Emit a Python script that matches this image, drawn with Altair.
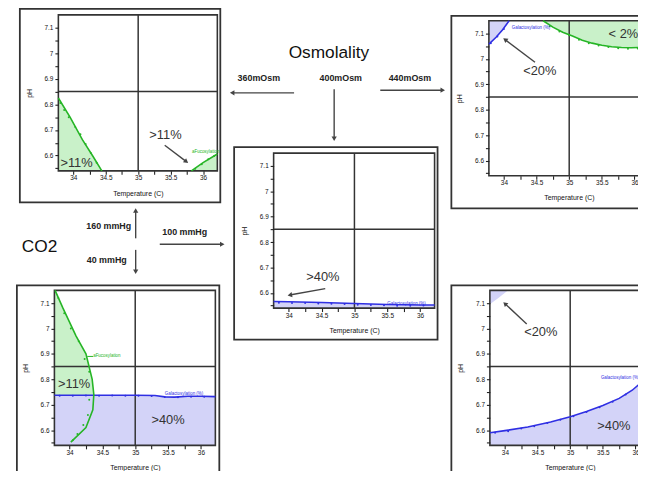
import math
import altair as alt
import pandas as pd

# ---------------- values ----------------
X_DOMAIN = [33.77, 36.22]          # Temperature (C)
Y_DOMAIN = [6.54, 7.15]            # pH
X_TICKS = [34.0, 34.25, 34.5, 34.75, 35.0, 35.25, 35.5, 35.75, 36.0]
Y_TICKS = [6.55, 6.6, 6.65, 6.7, 6.75, 6.8, 6.85, 6.9, 6.95, 7.0, 7.05, 7.1]
T_SET = 35.0
PH_SET = 6.85

# 360 mOsm (top left)
p1_fuc_a_T = [33.77, 33.95, 34.14, 34.30, 34.44]
p1_fuc_a_pH = [6.825, 6.750, 6.662, 6.598, 6.54]
p1_fuc_b_T = [35.82, 36.00, 36.22]
p1_fuc_b_pH = [6.54, 6.572, 6.606]
p1_dot_T = [33.80, 33.86, 33.93, 34.03, 34.11, 34.19, 34.27, 34.36, 35.88, 35.98, 36.08, 36.17]
p1_dot_pH = [6.805, 6.778, 6.750, 6.712, 6.683, 6.645, 6.610, 6.572, 6.548, 6.566, 6.585, 6.598]

# 400 mOsm (centre)
p2_gal_T = [33.77, 34.0, 34.5, 35.0, 35.5, 36.0, 36.22]
p2_gal_pH = [6.566, 6.565, 6.562, 6.558, 6.554, 6.552, 6.552]
p2_dot_T = [33.85, 34.05, 34.25, 34.45, 34.65, 34.85, 35.05, 35.25, 35.45, 35.65, 35.85, 36.05]
p2_dot_pH = [6.561, 6.560, 6.560, 6.558, 6.557, 6.556, 6.553, 6.552, 6.551, 6.549, 6.549, 6.550]

# 440 mOsm (top right)
p3_gal_T = [33.77, 33.88, 33.98, 34.08]
p3_gal_pH = [7.058, 7.085, 7.115, 7.150]
p3_fuc_T = [34.60, 34.75, 34.90, 35.05, 35.20, 35.35, 35.50, 35.65, 35.80, 35.95, 36.10, 36.22]
p3_fuc_pH = [7.150, 7.125, 7.105, 7.090, 7.073, 7.062, 7.054, 7.048, 7.045, 7.044, 7.045, 7.047]
p3_dot_T = [33.80, 33.90, 34.00, 34.70, 34.85, 35.00, 35.15, 35.30, 35.45, 35.60, 35.75, 35.90, 36.05, 36.20]
p3_dot_pH = [7.062, 7.088, 7.118, 7.128, 7.108, 7.093, 7.075, 7.062, 7.053, 7.047, 7.042, 7.040, 7.041, 7.044]

# 40 mmHg CO2 (bottom left)
p4_fuc_pH = [7.15, 7.08, 6.97, 6.90, 6.80, 6.74, 6.68, 6.61, 6.553]
p4_fuc_T = [33.78, 33.90, 34.10, 34.25, 34.345, 34.37, 34.355, 34.25, 34.02]
p4_dot_pH = [7.12, 7.06, 7.00, 6.95, 6.88, 6.83, 6.72, 6.66, 6.62, 6.585, 6.56]
p4_dot_T = [33.83, 33.92, 34.02, 34.14, 34.23, 34.30, 34.30, 34.28, 34.21, 34.12, 34.05]
p4_gal_T = [33.77, 34.0, 34.5, 35.0, 35.3, 35.45, 35.6, 35.8, 36.0, 36.22]
p4_gal_pH = [6.737, 6.737, 6.737, 6.737, 6.736, 6.731, 6.730, 6.733, 6.733, 6.732]
p4_gdot_T = [33.85, 34.05, 34.25, 34.45, 34.65, 34.85, 35.05, 35.25, 35.45, 35.65, 35.85, 36.05]
p4_gdot_pH = [6.735, 6.735, 6.736, 6.735, 6.736, 6.735, 6.735, 6.734, 6.730, 6.729, 6.731, 6.731]

# 160 mmHg CO2 (bottom right)
p5_gal_T = [33.77, 34.0, 34.35, 34.7, 35.0, 35.25, 35.5, 35.75, 35.95, 36.1, 36.22]
p5_gal_pH = [6.590, 6.598, 6.612, 6.632, 6.653, 6.673, 6.697, 6.725, 6.757, 6.790, 6.825]
p5_dot_T = [33.85, 34.05, 34.25, 34.45, 34.65, 34.85, 35.05, 35.25, 35.45, 35.65, 35.85, 36.05]
p5_dot_pH = [6.590, 6.596, 6.606, 6.615, 6.628, 6.641, 6.655, 6.671, 6.690, 6.712, 6.740, 6.776]
p5_gal_b_T = [33.77, 33.90, 34.05]
p5_gal_b_pH = [7.095, 7.120, 7.150]

# percentage call-outs inside the panels
PCT_PANEL = ["p1", "p1", "p2", "p3", "p3", "p4", "p4", "p5", "p5"]
PCT_TEXT = [">11%", ">11%", ">40%", "<20%", "< 2%", ">11%", ">40%", "<20%", ">40%"]
PCT_T = [35.42, 34.05, 34.52, 34.55, 35.83, 34.07, 35.50, 34.55, 35.67]
PCT_PH = [6.680, 6.571, 6.663, 6.953, 7.097, 6.783, 6.638, 6.987, 6.616]

# tiny series tags
TAG_PANEL = ["p1", "p2", "p3", "p4", "p4", "p5"]
TAG_TEXT = ["aFucosylation", "Galactosylation (%)", "Galactosylation (%)",
            "aFucosylation", "Galactosylation (%)", "Galactosylation (%)"]
TAG_SERIES = ["fuc", "gal", "gal", "fuc", "gal", "gal"]
TAG_T = [35.83, 35.50, 34.12, 34.36, 35.45, 35.47]
TAG_PH = [6.612, 6.556, 7.123, 6.890, 6.744, 6.806]

# figure-level labels
HEAD_TEXT = ["Osmolality", "CO2"]
HEAD_X = [333, 40]
HEAD_Y = [51, 247]
SUB_TEXT = ["360mOsm", "400mOsm", "440mOsm", "160 mmHg", "40 mmHg", "100 mmHg"]
SUB_X = [262, 345, 415, 110, 108, 187]
SUB_Y = [76, 76, 76, 226, 260, 232]

# arrows (page pixels): start -> tip
ARROW_X1 = [297.7, 385.0, 338.3, 137.3, 137.3, 161.7, 166.7, 329.3, 541.7, 533.3]
ARROW_Y1 = [91.0, 88.3, 87.3, 238.3, 250.0, 244.3, 144.0, 289.3, 60.0, 325.0]
ARROW_X2 = [233.3, 450.0, 338.3, 137.3, 137.3, 226.7, 190.0, 291.7, 510.0, 510.0]
ARROW_Y2 = [91.0, 88.3, 139.3, 208.3, 274.0, 244.3, 161.7, 296.0, 36.0, 303.3]

# panel frames (page pixels)
FRAME_L = [20, 237, 457, 17, 457]
FRAME_R = [223, 443, 720, 222, 720]
FRAME_T = [6, 146, 13, 286, 286]
FRAME_B = [202, 341, 208, 540, 540]

# ---------------- layout & style ----------------
OX, OY = 8, 8
W, H = 638, 463
BOX = {  # plot areas on the page: left, right, bottom, top
    "p1": (59, 220, 170, 12),
    "p2": (277, 440, 309, 152),
    "p3": (495, 657, 175, 18),
    "p4": (55, 218, 448, 291),
    "p5": (496, 658, 448, 291),
}
GREEN, GREEN_FILL = "#26b526", "#c9f1c9"
BLUE, BLUE_FILL = "#2f2fe3", "#d3d3f8"
INK = "#333333"
COL = {"fuc": GREEN, "gal": BLUE}


def xscale(key):
    l, r, b, t = BOX[key]
    return alt.Scale(domain=X_DOMAIN, range=[l - OX, r - OX], nice=False, zero=False)


def yscale(key):
    l, r, b, t = BOX[key]
    return alt.Scale(domain=Y_DOMAIN, range=[b - OY, t - OY], nice=False, zero=False)


def XF(key, field, axis=None):
    return alt.X(f"{field}:Q", scale=xscale(key), axis=axis)


def YF(key, field, axis=None):
    return alt.Y(f"{field}:Q", scale=yscale(key), axis=axis)


def df(**cols):
    return pd.DataFrame(cols)


def base_layers(key):
    l, r, b, t = BOX[key]
    common = dict(grid=False, domain=False, ticks=True, labels=True, tickSize=3.5, tickWidth=1.1,
                  tickColor="#222", labelFontSize=6.5, labelColor="#111", labelFlush=False,
                  labelOverlap=False, titleFontSize=7, titleFontWeight="normal", titleColor="#111",
                  format="~g", zindex=5)
    xa = alt.Axis(orient="bottom", offset=(b - OY) - H, values=X_TICKS,
                  labelExpr="abs(datum.value*2 - round(datum.value*2)) < 0.01 ? datum.label : ''",
                  title="Temperature (C)", labelPadding=0.5, titlePadding=8, **common)
    ya = alt.Axis(orient="left", offset=-(l - OX), values=Y_TICKS,
                  labelExpr="abs(datum.value*10 - round(datum.value*10)) < 0.01 ? datum.label : ''",
                  title="pH", labelPadding=2, titlePadding=12, **common)
    box = df(x0=[X_DOMAIN[0]], x1=[X_DOMAIN[1]], y0=[Y_DOMAIN[0]], y1=[Y_DOMAIN[1]])
    border = alt.Chart(box).mark_rect(filled=False, color=INK, strokeWidth=1.6).encode(
        x=XF(key, "x0", xa), x2="x1:Q", y=YF(key, "y0", ya), y2="y1:Q")
    vline = alt.Chart(box.assign(T=[T_SET])).mark_rule(color=INK, strokeWidth=1.5).encode(
        x=XF(key, "T"), y=YF(key, "y0"), y2="y1:Q")
    hline = alt.Chart(box.assign(P=[PH_SET])).mark_rule(color=INK, strokeWidth=1.5).encode(
        y=YF(key, "P"), x=XF(key, "x0"), x2="x1:Q")
    return [vline, hline, border]


def fill_below(key, T, P, color):
    return alt.Chart(df(T=T, P=P)).mark_area(color=color, opacity=1, orient="vertical").encode(
        x=XF(key, "T"), y=YF(key, "P"), y2=alt.datum(Y_DOMAIN[0]))


def fill_above(key, T, P, color):
    return alt.Chart(df(T=T, P=P)).mark_area(color=color, opacity=1, orient="vertical").encode(
        x=XF(key, "T"), y=YF(key, "P"), y2=alt.datum(Y_DOMAIN[1]))


def fill_left(key, T, P, color):
    return alt.Chart(df(T=T, P=P)).mark_area(color=color, opacity=1, orient="horizontal").encode(
        y=YF(key, "P"), x=XF(key, "T"), x2=alt.datum(X_DOMAIN[0]))


def curve(key, T, P, color, width=1.6):
    return alt.Chart(df(T=T, P=P, i=list(range(len(T))))).mark_line(color=color, strokeWidth=width).encode(
        x=XF(key, "T"), y=YF(key, "P"), order="i:Q")


def dots(key, T, P, color):
    return alt.Chart(df(T=T, P=P)).mark_circle(color=color, size=4, opacity=1).encode(
        x=XF(key, "T"), y=YF(key, "P"))


def callouts(key):
    idx = [i for i, p in enumerate(PCT_PANEL) if p == key]
    d = df(T=[PCT_T[i] for i in idx], P=[PCT_PH[i] for i in idx], txt=[PCT_TEXT[i] for i in idx])
    out = [alt.Chart(d).mark_text(fontSize=13, color=INK, align="center", baseline="middle").encode(
        x=XF(key, "T"), y=YF(key, "P"), text="txt:N")]
    tdx = [i for i, p in enumerate(TAG_PANEL) if p == key]
    for i in tdx:
        out.append(alt.Chart(df(T=[TAG_T[i]], P=[TAG_PH[i]], txt=[TAG_TEXT[i]])).mark_text(
            fontSize=4.5, color=COL[TAG_SERIES[i]], align="left", baseline="middle").encode(
            x=XF(key, "T"), y=YF(key, "P"), text="txt:N"))
    return out


def panel(key, fills, lines, extra=()):
    vline, hline, border = base_layers(key)
    return list(fills) + [vline, hline, border] + list(lines) + list(extra) + callouts(key)


p1 = panel("p1",
           [fill_below("p1", p1_fuc_a_T, p1_fuc_a_pH, GREEN_FILL),
            fill_below("p1", p1_fuc_b_T, p1_fuc_b_pH, GREEN_FILL)],
           [curve("p1", p1_fuc_a_T, p1_fuc_a_pH, GREEN),
            curve("p1", p1_fuc_b_T, p1_fuc_b_pH, GREEN),
            dots("p1", p1_dot_T, p1_dot_pH, GREEN)])

p2 = panel("p2",
           [fill_below("p2", p2_gal_T, p2_gal_pH, BLUE_FILL)],
           [curve("p2", p2_gal_T, p2_gal_pH, BLUE),
            dots("p2", p2_dot_T, p2_dot_pH, BLUE)])

p3 = panel("p3",
           [fill_above("p3", p3_gal_T, p3_gal_pH, BLUE_FILL),
            fill_above("p3", p3_fuc_T, p3_fuc_pH, GREEN_FILL)],
           [curve("p3", p3_gal_T, p3_gal_pH, BLUE),
            curve("p3", p3_fuc_T, p3_fuc_pH, GREEN),
            dots("p3", p3_dot_T[:3], p3_dot_pH[:3], BLUE),
            dots("p3", p3_dot_T[3:], p3_dot_pH[3:], GREEN)])

leader = alt.Chart(df(T=[34.27], T2=[34.36], P=[6.89])).mark_rule(color=GREEN, strokeWidth=1).encode(
    x=XF("p4", "T"), x2="T2:Q", y=YF("p4", "P"))
p4 = panel("p4",
           [fill_left("p4", p4_fuc_T, p4_fuc_pH, GREEN_FILL),
            fill_below("p4", p4_gal_T, p4_gal_pH, BLUE_FILL)],
           [curve("p4", p4_gal_T, p4_gal_pH, BLUE),
            dots("p4", p4_gdot_T, p4_gdot_pH, BLUE),
            curve("p4", p4_fuc_T, p4_fuc_pH, GREEN),
            dots("p4", p4_dot_T, p4_dot_pH, GREEN)],
           [leader])

p5 = panel("p5",
           [fill_above("p5", p5_gal_b_T, p5_gal_b_pH, BLUE_FILL),
            fill_below("p5", p5_gal_T, p5_gal_pH, BLUE_FILL)],
           [curve("p5", p5_gal_T, p5_gal_pH, BLUE),
            dots("p5", p5_dot_T, p5_dot_pH, BLUE)])

# ---------------- figure-level annotation (page pixel scale) ----------------
def AX(field):
    return alt.X(f"{field}:Q", scale=alt.Scale(domain=[OX, OX + W], range=[0, W], nice=False, zero=False), axis=None)


def AY(field):
    return alt.Y(f"{field}:Q", scale=alt.Scale(domain=[OY, OY + H], range=[0, H], nice=False, zero=False), axis=None)


frames = alt.Chart(df(l=FRAME_L, r=FRAME_R, t=FRAME_T, b=FRAME_B)).mark_rect(
    filled=False, color=INK, strokeWidth=1.8).encode(x=AX("l"), x2="r:Q", y=AY("t"), y2="b:Q")

heads_x, heads_y, ends_x, ends_y, angles = [], [], [], [], []
for x1, y1, x2, y2 in zip(ARROW_X1, ARROW_Y1, ARROW_X2, ARROW_Y2):
    dx, dy = x2 - x1, y2 - y1
    n = math.hypot(dx, dy)
    ux, uy = dx / n, dy / n
    heads_x.append(x2 - 2.5 * ux)
    heads_y.append(y2 - 2.5 * uy)
    ends_x.append(x2 - 3 * ux)
    ends_y.append(y2 - 3 * uy)
    angles.append(math.degrees(math.atan2(dx, -dy)) % 360)

arrow_df = df(x1=ARROW_X1, y1=ARROW_Y1, ex=ends_x, ey=ends_y, hx=heads_x, hy=heads_y, ang=angles)
shafts = alt.Chart(arrow_df).mark_rule(color="#444", strokeWidth=1.4).encode(
    x=AX("x1"), y=AY("y1"), x2="ex:Q", y2="ey:Q")
tips = alt.Chart(arrow_df).mark_point(shape="triangle", filled=True, size=28, color="#444", opacity=1).encode(
    x=AX("hx"), y=AY("hy"), angle=alt.Angle("ang:Q", scale=None))

head_txt = alt.Chart(df(x=HEAD_X, y=HEAD_Y, txt=HEAD_TEXT)).mark_text(
    fontSize=17.5, color="#111", align="center", baseline="middle").encode(x=AX("x"), y=AY("y"), text="txt:N")
sub_txt = alt.Chart(df(x=SUB_X, y=SUB_Y, txt=SUB_TEXT)).mark_text(
    fontSize=9, fontWeight="bold", color="#222", align="center", baseline="middle").encode(
    x=AX("x"), y=AY("y"), text="txt:N")

all_layers = [frames] + p1 + p2 + p3 + p4 + p5 + [shafts, tips, head_txt, sub_txt]

chart = alt.layer(*all_layers).resolve_scale(
    x="independent", y="independent"
).resolve_axis(
    x="independent", y="independent"
).properties(
    width=W, height=H, autosize=alt.AutoSizeParams(type="none"), padding=0, background="white"
).configure(font="Liberation Sans").configure_view(stroke=None)

chart.save("out.html", embed_options={"renderer": "svg", "actions": False})
